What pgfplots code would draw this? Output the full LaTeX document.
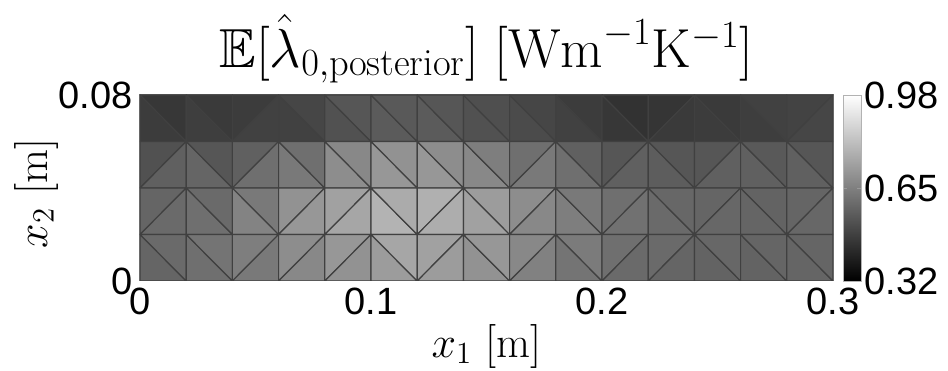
\RequirePackage{fix-cm}
\documentclass[border=0pt]{standalone}
\usepackage{fontspec}
\usepackage{amssymb}
\usepackage{pgfplots}
\pgfplotsset{compat=1.18}
\newfontfamily\tickfont{Liberation Sans}
\begin{document}
\begin{tikzpicture}
\begin{axis}[
  name=ax,
  scale only axis, width=346.5pt, height=93pt,
  xmin=0, xmax=0.3, ymin=0, ymax=0.08,
  scaled ticks=false,
  axis line style={draw=black!55, line width=0.5pt},
  xtick={0,0.1,0.2,0.3}, xticklabels={0,0.1,0.2,0.3},
  ytick={0,0.08}, yticklabels={0,0.08},
  major tick length=0pt,
  xticklabel style={font=\tickfont\fontsize{19}{19}\selectfont, inner sep=3.5pt},
  yticklabel style={font=\tickfont\fontsize{19}{19}\selectfont, inner sep=3.5pt},
  colormap/blackwhite, point meta min=0.32, point meta max=0.98,
  colorbar,
  colorbar style={
    at={(parent axis.north east)}, anchor=north west, xshift=-3.5pt,
    width=9pt, scaled ticks=false,
    ytick={0.32,0.65,0.98}, yticklabels={0.32,0.65,0.98},
    yticklabel style={font=\tickfont\fontsize{19}{19}\selectfont, inner sep=1.5pt},
    axis line style={draw=black!30},
    major tick length=2pt, tick style={draw=black!40},
  },
  title={$\mathbb{E}[\hat{\lambda}_{0,\mathrm{posterior}}]\;[\mathrm{Wm}^{-1}\mathrm{K}^{-1}]$},
  title style={font=\fontsize{27.5}{31}\selectfont, at={(axis description cs:0.5,1.086)}, anchor=base},
  xlabel={$x_1$ [m]},
  xlabel style={font=\fontsize{22}{26}\selectfont, at={(axis description cs:0.5,-0.409)}, anchor=base},
  ylabel={$x_2$ [m]},
  ylabel style={font=\fontsize{22}{26}\selectfont, at={(axis description cs:-0.150,0.47)}, anchor=center},
]
\addplot[patch, shader=faceted, faceted color=black!75, line width=0.6pt, point meta=explicit] coordinates {
(0,0.08)[0.475] (0,0.06)[0.475] (0.02,0.06)[0.475]
(0,0.08)[0.462] (0.02,0.08)[0.462] (0.02,0.06)[0.462]
(0.02,0.08)[0.480] (0.02,0.06)[0.480] (0.04,0.06)[0.480]
(0.02,0.08)[0.470] (0.04,0.08)[0.470] (0.04,0.06)[0.470]
(0.04,0.06)[0.475] (0.04,0.08)[0.475] (0.06,0.08)[0.475]
(0.04,0.06)[0.488] (0.06,0.06)[0.488] (0.06,0.08)[0.488]
(0.06,0.08)[0.488] (0.06,0.06)[0.488] (0.08,0.06)[0.488]
(0.06,0.08)[0.501] (0.08,0.08)[0.501] (0.08,0.06)[0.501]
(0.08,0.08)[0.527] (0.08,0.06)[0.527] (0.10,0.06)[0.527]
(0.08,0.08)[0.540] (0.10,0.08)[0.540] (0.10,0.06)[0.540]
(0.10,0.08)[0.553] (0.10,0.06)[0.553] (0.12,0.06)[0.553]
(0.10,0.08)[0.548] (0.12,0.08)[0.548] (0.12,0.06)[0.548]
(0.12,0.08)[0.553] (0.12,0.06)[0.553] (0.14,0.06)[0.553]
(0.12,0.08)[0.540] (0.14,0.08)[0.540] (0.14,0.06)[0.540]
(0.14,0.08)[0.527] (0.14,0.06)[0.527] (0.16,0.06)[0.527]
(0.14,0.08)[0.522] (0.16,0.08)[0.522] (0.16,0.06)[0.522]
(0.16,0.08)[0.514] (0.16,0.06)[0.514] (0.18,0.06)[0.514]
(0.16,0.08)[0.501] (0.18,0.08)[0.501] (0.18,0.06)[0.501]
(0.18,0.08)[0.488] (0.18,0.06)[0.488] (0.20,0.06)[0.488]
(0.18,0.08)[0.475] (0.20,0.08)[0.475] (0.20,0.06)[0.475]
(0.20,0.08)[0.462] (0.20,0.06)[0.462] (0.22,0.06)[0.462]
(0.20,0.08)[0.449] (0.22,0.08)[0.449] (0.22,0.06)[0.449]
(0.22,0.06)[0.455] (0.22,0.08)[0.455] (0.24,0.08)[0.455]
(0.22,0.06)[0.470] (0.24,0.06)[0.470] (0.24,0.08)[0.470]
(0.24,0.08)[0.475] (0.24,0.06)[0.475] (0.26,0.06)[0.475]
(0.24,0.08)[0.470] (0.26,0.08)[0.470] (0.26,0.06)[0.470]
(0.26,0.08)[0.480] (0.26,0.06)[0.480] (0.28,0.06)[0.480]
(0.26,0.08)[0.488] (0.28,0.08)[0.488] (0.28,0.06)[0.488]
(0.28,0.06)[0.491] (0.28,0.08)[0.491] (0.30,0.08)[0.491]
(0.28,0.06)[0.501] (0.30,0.06)[0.501] (0.30,0.08)[0.501]
(0,0.04)[0.527] (0,0.06)[0.527] (0.02,0.06)[0.527]
(0,0.04)[0.566] (0.02,0.04)[0.566] (0.02,0.06)[0.566]
(0.02,0.06)[0.579] (0.02,0.04)[0.579] (0.04,0.04)[0.579]
(0.02,0.06)[0.540] (0.04,0.06)[0.540] (0.04,0.04)[0.540]
(0.04,0.04)[0.566] (0.04,0.06)[0.566] (0.06,0.06)[0.566]
(0.04,0.04)[0.605] (0.06,0.04)[0.605] (0.06,0.06)[0.605]
(0.06,0.06)[0.631] (0.06,0.04)[0.631] (0.08,0.04)[0.631]
(0.06,0.06)[0.605] (0.08,0.06)[0.605] (0.08,0.04)[0.605]
(0.08,0.06)[0.682] (0.08,0.04)[0.682] (0.10,0.04)[0.682]
(0.08,0.06)[0.669] (0.10,0.06)[0.669] (0.10,0.04)[0.669]
(0.10,0.06)[0.708] (0.10,0.04)[0.708] (0.12,0.04)[0.708]
(0.10,0.06)[0.695] (0.12,0.06)[0.695] (0.12,0.04)[0.695]
(0.12,0.06)[0.708] (0.12,0.04)[0.708] (0.14,0.04)[0.708]
(0.12,0.06)[0.682] (0.14,0.06)[0.682] (0.14,0.04)[0.682]
(0.14,0.06)[0.669] (0.14,0.04)[0.669] (0.16,0.04)[0.669]
(0.14,0.06)[0.644] (0.16,0.06)[0.644] (0.16,0.04)[0.644]
(0.16,0.04)[0.605] (0.16,0.06)[0.605] (0.18,0.06)[0.605]
(0.16,0.04)[0.631] (0.18,0.04)[0.631] (0.18,0.06)[0.631]
(0.18,0.06)[0.605] (0.18,0.04)[0.605] (0.20,0.04)[0.605]
(0.18,0.06)[0.566] (0.20,0.06)[0.566] (0.20,0.04)[0.566]
(0.20,0.04)[0.540] (0.20,0.06)[0.540] (0.22,0.06)[0.540]
(0.20,0.04)[0.566] (0.22,0.04)[0.566] (0.22,0.06)[0.566]
(0.22,0.06)[0.558] (0.22,0.04)[0.558] (0.24,0.04)[0.558]
(0.22,0.06)[0.540] (0.24,0.06)[0.540] (0.24,0.04)[0.540]
(0.24,0.04)[0.540] (0.24,0.06)[0.540] (0.26,0.06)[0.540]
(0.24,0.04)[0.566] (0.26,0.04)[0.566] (0.26,0.06)[0.566]
(0.26,0.06)[0.566] (0.26,0.04)[0.566] (0.28,0.04)[0.566]
(0.26,0.06)[0.548] (0.28,0.06)[0.548] (0.28,0.04)[0.548]
(0.28,0.06)[0.566] (0.28,0.04)[0.566] (0.30,0.04)[0.566]
(0.28,0.06)[0.540] (0.30,0.06)[0.540] (0.30,0.04)[0.540]
(0,0.02)[0.579] (0,0.04)[0.579] (0.02,0.04)[0.579]
(0,0.02)[0.592] (0.02,0.02)[0.592] (0.02,0.04)[0.592]
(0.02,0.04)[0.605] (0.02,0.02)[0.605] (0.04,0.02)[0.605]
(0.02,0.04)[0.592] (0.04,0.04)[0.592] (0.04,0.02)[0.592]
(0.04,0.04)[0.656] (0.04,0.02)[0.656] (0.06,0.02)[0.656]
(0.04,0.04)[0.631] (0.06,0.04)[0.631] (0.06,0.02)[0.631]
(0.06,0.02)[0.695] (0.06,0.04)[0.695] (0.08,0.04)[0.695]
(0.06,0.02)[0.708] (0.08,0.02)[0.708] (0.08,0.04)[0.708]
(0.08,0.02)[0.734] (0.08,0.04)[0.734] (0.10,0.04)[0.734]
(0.08,0.02)[0.747] (0.10,0.02)[0.747] (0.10,0.04)[0.747]
(0.10,0.04)[0.781] (0.10,0.02)[0.781] (0.12,0.02)[0.781]
(0.10,0.04)[0.760] (0.12,0.04)[0.760] (0.12,0.02)[0.760]
(0.12,0.02)[0.773] (0.12,0.04)[0.773] (0.14,0.04)[0.773]
(0.12,0.02)[0.765] (0.14,0.02)[0.765] (0.14,0.04)[0.765]
(0.14,0.04)[0.734] (0.14,0.02)[0.734] (0.16,0.02)[0.734]
(0.14,0.04)[0.721] (0.16,0.04)[0.721] (0.16,0.02)[0.721]
(0.16,0.02)[0.682] (0.16,0.04)[0.682] (0.18,0.04)[0.682]
(0.16,0.02)[0.669] (0.18,0.02)[0.669] (0.18,0.04)[0.669]
(0.18,0.04)[0.644] (0.18,0.02)[0.644] (0.20,0.02)[0.644]
(0.18,0.04)[0.631] (0.20,0.04)[0.631] (0.20,0.02)[0.631]
(0.20,0.02)[0.605] (0.20,0.04)[0.605] (0.22,0.04)[0.605]
(0.20,0.02)[0.610] (0.22,0.02)[0.610] (0.22,0.04)[0.610]
(0.22,0.04)[0.592] (0.22,0.02)[0.592] (0.24,0.02)[0.592]
(0.22,0.04)[0.584] (0.24,0.04)[0.584] (0.24,0.02)[0.584]
(0.24,0.02)[0.579] (0.24,0.04)[0.579] (0.26,0.04)[0.579]
(0.24,0.02)[0.584] (0.26,0.02)[0.584] (0.26,0.04)[0.584]
(0.26,0.04)[0.579] (0.26,0.02)[0.579] (0.28,0.02)[0.579]
(0.26,0.04)[0.574] (0.28,0.04)[0.574] (0.28,0.02)[0.574]
(0.28,0.02)[0.579] (0.28,0.04)[0.579] (0.30,0.04)[0.579]
(0.28,0.02)[0.584] (0.30,0.02)[0.584] (0.30,0.04)[0.584]
(0,0.02)[0.579] (0,0)[0.579] (0.02,0)[0.579]
(0,0.02)[0.592] (0.02,0.02)[0.592] (0.02,0)[0.592]
(0.02,0.02)[0.605] (0.02,0)[0.605] (0.04,0)[0.605]
(0.02,0.02)[0.618] (0.04,0.02)[0.618] (0.04,0)[0.618]
(0.04,0)[0.644] (0.04,0.02)[0.644] (0.06,0.02)[0.644]
(0.04,0)[0.631] (0.06,0)[0.631] (0.06,0.02)[0.631]
(0.06,0)[0.682] (0.06,0.02)[0.682] (0.08,0.02)[0.682]
(0.06,0)[0.669] (0.08,0)[0.669] (0.08,0.02)[0.669]
(0.08,0)[0.708] (0.08,0.02)[0.708] (0.10,0.02)[0.708]
(0.08,0)[0.695] (0.10,0)[0.695] (0.10,0.02)[0.695]
(0.10,0.02)[0.721] (0.10,0)[0.721] (0.12,0)[0.721]
(0.10,0.02)[0.747] (0.12,0.02)[0.747] (0.12,0)[0.747]
(0.12,0)[0.734] (0.12,0.02)[0.734] (0.14,0.02)[0.734]
(0.12,0)[0.721] (0.14,0)[0.721] (0.14,0.02)[0.721]
(0.14,0.02)[0.695] (0.14,0)[0.695] (0.16,0)[0.695]
(0.14,0.02)[0.708] (0.16,0.02)[0.708] (0.16,0)[0.708]
(0.16,0)[0.669] (0.16,0.02)[0.669] (0.18,0.02)[0.669]
(0.16,0)[0.651] (0.18,0)[0.651] (0.18,0.02)[0.651]
(0.18,0.02)[0.618] (0.18,0)[0.618] (0.20,0)[0.618]
(0.18,0.02)[0.636] (0.20,0.02)[0.636] (0.20,0)[0.636]
(0.20,0)[0.605] (0.20,0.02)[0.605] (0.22,0.02)[0.605]
(0.20,0)[0.592] (0.22,0)[0.592] (0.22,0.02)[0.592]
(0.22,0)[0.592] (0.22,0.02)[0.592] (0.24,0.02)[0.592]
(0.22,0)[0.579] (0.24,0)[0.579] (0.24,0.02)[0.579]
(0.24,0.02)[0.574] (0.24,0)[0.574] (0.26,0)[0.574]
(0.24,0.02)[0.584] (0.26,0.02)[0.584] (0.26,0)[0.584]
(0.26,0.02)[0.574] (0.26,0)[0.574] (0.28,0)[0.574]
(0.26,0.02)[0.579] (0.28,0.02)[0.579] (0.28,0)[0.579]
(0.28,0.02)[0.579] (0.28,0)[0.579] (0.30,0)[0.579]
(0.28,0.02)[0.579] (0.30,0.02)[0.579] (0.30,0)[0.579]
};
\end{axis}
\pgfresetboundingbox
\path[use as bounding box] ([shift={(-70pt,-45pt)}]ax.south west) rectangle ([shift={(57.5pt,47.5pt)}]ax.north east);
\end{tikzpicture}
\end{document}
